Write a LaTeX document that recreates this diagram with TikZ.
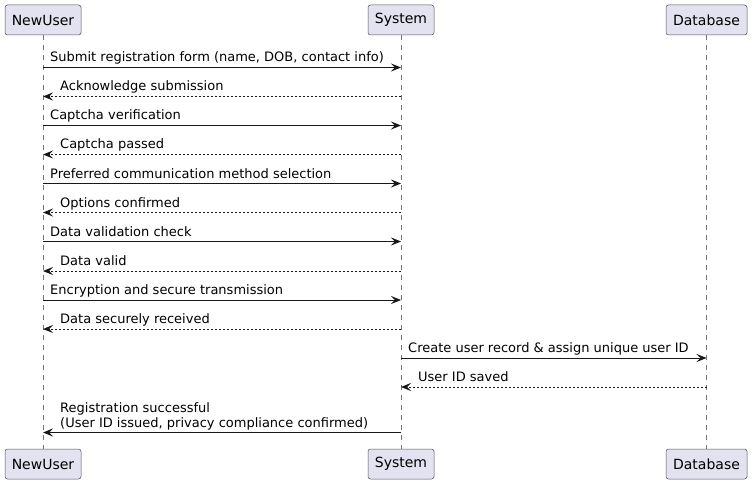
\documentclass[tikz,border=0pt]{standalone}
\usepackage{fontspec}
\setmainfont{DejaVu Sans}
\usetikzlibrary{arrows.meta}
\definecolor{pline}{HTML}{181818}
\definecolor{pfill}{HTML}{E2E2F0}
\begin{document}
\begin{tikzpicture}[x=1pt,y=-1pt,
  participant/.style={draw=pline!75,fill=pfill,rounded corners=2.5pt,line width=0.5pt,
    minimum height=30pt,inner sep=0pt,font=\fontsize{14}{16}\selectfont},
  lifeline/.style={draw=pline!60,line width=0.5pt,dash pattern=on 5pt off 5pt},
  msg/.style={draw=pline,line width=1pt,-{Stealth[length=10pt,width=8pt,inset=4pt]}},
  reply/.style={msg,dash pattern=on 2pt off 2pt},
  lbl/.style={inner sep=0pt,anchor=base west,font=\fontsize{13}{15}\selectfont,align=left}
]
\useasboundingbox (0,0) rectangle (752,484);
% participants
\node[participant,minimum width=76pt] (ut) at (43,20) {NewUser};
\node[participant,minimum width=66pt] (st) at (401,20) {System};
\node[participant,minimum width=81pt] (dt) at (706.5,20) {Database};
\node[participant,minimum width=76pt] (ub) at (43,464) {NewUser};
\node[participant,minimum width=66pt] (sb) at (401,464) {System};
\node[participant,minimum width=81pt] (db) at (706.5,464) {Database};
% lifelines
\draw[lifeline] (ut) -- (ub);
\draw[lifeline] (st) -- (sb);
\draw[lifeline] (dt) -- (db);
% message rows
\coordinate (m1) at (0,67.5);
\coordinate (m2) at (0,96.5);
\coordinate (m3) at (0,125.5);
\coordinate (m4) at (0,154.5);
\coordinate (m5) at (0,183.5);
\coordinate (m6) at (0,212.5);
\coordinate (m7) at (0,241.5);
\coordinate (m8) at (0,271);
\coordinate (m9) at (0,300);
\coordinate (m10) at (0,329);
\coordinate (m11) at (0,358);
\coordinate (m12) at (0,387);
\coordinate (m13) at (0,432.5);
% messages
\draw[msg] (ut.south |- m1) -- (st.south |- m1);
\node[lbl] (l1) at (50,62) {Submit registration form (name, DOB, contact info)};
\draw[reply] (st.south |- m2) -- (ut.south |- m2);
\node[lbl] (l2) at (60,91) {Acknowledge submission};
\draw[msg] (ut.south |- m3) -- (st.south |- m3);
\node[lbl] (l3) at (50,120) {Captcha verification};
\draw[reply] (st.south |- m4) -- (ut.south |- m4);
\node[lbl] (l4) at (60,149) {Captcha passed};
\draw[msg] (ut.south |- m5) -- (st.south |- m5);
\node[lbl] (l5) at (50,178) {Preferred communication method selection};
\draw[reply] (st.south |- m6) -- (ut.south |- m6);
\node[lbl] (l6) at (60,207) {Options confirmed};
\draw[msg] (ut.south |- m7) -- (st.south |- m7);
\node[lbl] (l7) at (50,236) {Data validation check};
\draw[reply] (st.south |- m8) -- (ut.south |- m8);
\node[lbl] (l8) at (60,265.5) {Data valid};
\draw[msg] (ut.south |- m9) -- (st.south |- m9);
\node[lbl] (l9) at (50,294.5) {Encryption and secure transmission};
\draw[reply] (st.south |- m10) -- (ut.south |- m10);
\node[lbl] (l10) at (60,323.5) {Data securely received};
\draw[msg] (st.south |- m11) -- (dt.south |- m11);
\node[lbl] (l11) at (408,352.5) {Create user record \& assign unique user ID};
\draw[reply] (dt.south |- m12) -- (st.south |- m12);
\node[lbl] (l12) at (418,381.5) {User ID saved};
\draw[msg] (st.south |- m13) -- (ut.south |- m13);
\node[lbl] (l13) at (60,427) {Registration successful\\(User ID issued, privacy compliance confirmed)};
\end{tikzpicture}
\end{document}
